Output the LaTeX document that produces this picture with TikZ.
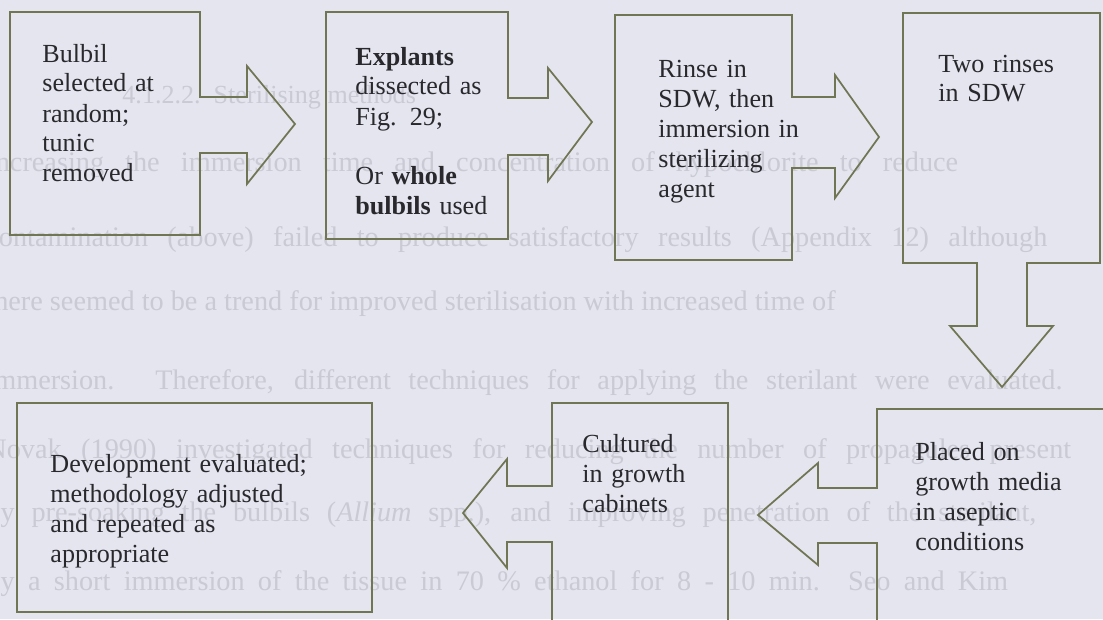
\documentclass[tikz,border=0pt]{standalone}
\usepackage{fontspec}
\setmainfont{Liberation Serif}

\definecolor{paper}{RGB}{229,229,239}
\definecolor{frame}{RGB}{112,118,84}
\definecolor{ink}{RGB}{40,40,45}
\definecolor{ghost}{RGB}{202,202,213}

\tikzset{
  flowbox/.style={draw=frame, line width=0.8pt, line join=miter},
  flowtext/.style={anchor=base west, inner sep=0pt, text=ink, align=left,
    font=\fontsize{12}{13.8}\selectfont},
  ghostline/.style={anchor=base west, inner sep=0pt, text=ghost,
    font=\fontsize{13}{15}\selectfont},
}

\begin{document}
\begin{tikzpicture}[x=0.46pt, y=-0.46pt]
   % page
   \useasboundingbox[fill=paper] (0,0) rectangle (1103,619);
   \clip (0,0) rectangle (1103,619);

   % faint text of the page behind
   \node[ghostline, font=\fontsize{12}{14}\selectfont] (g0) at (122,103) {4.1.2.2.\ \ Sterilising methods};
   \node[ghostline] (g1) at (-14,171) {\makebox[447pt][s]{Increasing the immersion time and concentration of hypochlorite to reduce}};
   \node[ghostline] (g2) at (-14,246) {\makebox[488pt][s]{contamination (above) failed to produce satisfactory results (Appendix 12) although}};
   \node[ghostline] (g3) at (-14,310) {there seemed to be a trend for improved sterilisation with increased time of};
   \node[ghostline] (g4) at (-14,389) {\makebox[495pt][s]{immersion. Therefore, different techniques for applying the sterilant were evaluated.}};
   \node[ghostline] (g5) at (-14,458) {\makebox[499pt][s]{Novak (1990) investigated techniques for reducing the number of propagules present}};
   \node[ghostline] (g6) at (-14,521) {\makebox[483pt][s]{by pre-soaking the bulbils (\textit{Allium} spp.), and improving penetration of the sterilant,}};
   \node[ghostline] (g7) at (-14,590) {\makebox[470pt][s]{by a short immersion of the tissue in 70 \% ethanol for 8 - 10 min. Seo and Kim}};

   % top row, arrows to the right
   \draw[flowbox] (10,12) -- (200,12) -- (200,97) -- (247,97) -- (247,66)
     -- (295,124) -- (247,184) -- (247,153) -- (200,153) -- (200,235) -- (10,235) -- cycle;
   \draw[flowbox] (326,12) -- (508,12) -- (508,98) -- (548,98) -- (548,68)
     -- (592,122) -- (548,181) -- (548,155) -- (508,155) -- (508,239) -- (326,239) -- cycle;
   \draw[flowbox] (615,15) -- (792,15) -- (792,97) -- (835,97) -- (835,75)
     -- (879,137) -- (835,198) -- (835,168) -- (792,168) -- (792,260) -- (615,260) -- cycle;

   % last box of the top row, arrow down
   \draw[flowbox] (903,13) -- (1100,13) -- (1100,263) -- (1027,263) -- (1027,326)
     -- (1053,326) -- (1002,387) -- (950,326) -- (977,326) -- (977,263) -- (903,263) -- cycle;

   % bottom row, arrows to the left
   \draw[flowbox] (1130,409) -- (877,409) -- (877,488) -- (818,488) -- (818,463)
     -- (758,515) -- (818,565) -- (818,543) -- (877,543) -- (877,640);
   \draw[flowbox] (552,640) -- (552,542) -- (507,542) -- (507,568) -- (463,513)
     -- (507,459) -- (507,486) -- (552,486) -- (552,403) -- (728,403) -- (728,640);
   \draw[flowbox] (17,403) rectangle (372,612);

   % labels
   \node[flowtext, text width=60pt] (bulbil) at (42,62)
     {Bulbil\\selected at\\random;\\tunic\\removed};
   \node[flowtext, text width=66pt] (explants) at (355,65)
     {\textbf{Explants}\\dissected as\\Fig. 29;\\[13.8pt]Or \textbf{whole}\\\textbf{bulbils} used};
   \node[flowtext, text width=68pt] (rinse) at (658,77)
     {Rinse in\\SDW, then\\immersion in\\sterilizing\\agent};
   \node[flowtext, text width=58pt] (tworinses) at (938,72)
     {Two rinses\\in SDW};
   \node[flowtext, text width=70pt] (placed) at (915,460)
     {Placed on\\growth media\\in aseptic\\conditions};
   \node[flowtext, text width=50pt] (cultured) at (582,452)
     {Cultured\\in growth\\cabinets};
   \node[flowtext, text width=122pt] (develop) at (50,472)
     {Development evaluated;\\methodology adjusted\\and repeated as\\appropriate};
\end{tikzpicture}
\end{document}
